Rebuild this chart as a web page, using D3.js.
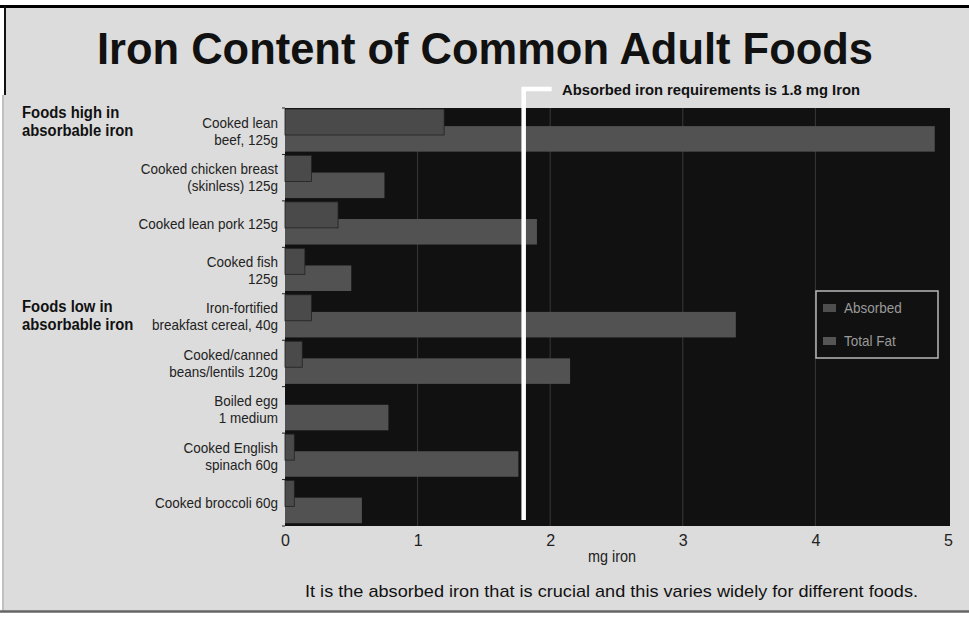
<!DOCTYPE html>
<html>
<head>
<meta charset="utf-8">
<script src="https://cdn.jsdelivr.net/npm/d3@7"></script>
<style>
  html, body { margin: 0; padding: 0; background: #fff; }
  svg { display: block; }
</style>
</head>
<body>
<div id="chart"></div>
<script>
// data
const foodLabels = [
  ["Cooked lean", "beef, 125g"],
  ["Cooked chicken breast", "(skinless) 125g"],
  ["Cooked lean pork 125g"],
  ["Cooked fish", "125g"],
  ["Iron-fortified", "breakfast cereal, 40g"],
  ["Cooked/canned", "beans/lentils 120g"],
  ["Boiled egg", "1 medium"],
  ["Cooked English", "spinach 60g"],
  ["Cooked broccoli 60g"]
];
const absorbed = [1.2, 0.2, 0.4, 0.15, 0.2, 0.13, 0, 0.07, 0.07];
const totalFe = [4.9, 0.75, 1.9, 0.5, 3.4, 2.15, 0.78, 1.76, 0.58];
const xTicks = [0, 1, 2, 3, 4, 5];
const seriesNames = ["Absorbed", "Total Fat"];
const requirement = 1.8;

const W = 969, H = 618;
const narrow = "'Liberation Sans Narrow', 'Arial Narrow', 'Liberation Sans', Arial, sans-serif";
const plot = { left: 285, right: 950, top: 108, bottom: 526 };
const squeeze = 0.9; // condensed look for the small texts

const svg = d3.select("#chart").append("svg")
  .attr("width", W).attr("height", H);

// paper
svg.append("rect").attr("x", 0).attr("y", 0).attr("width", W).attr("height", H).attr("fill", "#fff");
svg.append("rect").attr("x", 4).attr("y", 7).attr("width", W - 4).attr("height", 604).attr("fill", "#dcdcdc");
svg.append("line").attr("x1", 0).attr("x2", W).attr("y1", 6.5).attr("y2", 6.5)
  .attr("stroke", "#000").attr("stroke-width", 3);
svg.append("line").attr("x1", 5).attr("x2", 5).attr("y1", 6).attr("y2", 95)
  .attr("stroke", "#111").attr("stroke-width", 2);
svg.append("line").attr("x1", 3).attr("x2", 3).attr("y1", 95).attr("y2", 611)
  .attr("stroke", "#aaa").attr("stroke-width", 1.5);
svg.append("line").attr("x1", 0).attr("x2", W).attr("y1", 611.5).attr("y2", 611.5)
  .attr("stroke", "#666").attr("stroke-width", 2.5);

// title
svg.append("text")
  .attr("x", 97).attr("y", 64)
  .attr("textLength", 776).attr("lengthAdjust", "spacingAndGlyphs")
  .style("font-family", narrow).style("font-weight", "bold").style("font-size", "45px")
  .attr("fill", "#111")
  .text("Iron Content of Common Adult Foods");

const x = d3.scaleLinear().domain([0, 5]).range([plot.left, plot.right - 2]);
const y = d3.scaleBand().domain(d3.range(foodLabels.length)).range([plot.top, plot.bottom]).padding(0);
const bw = y.bandwidth();

// plot background
svg.append("rect")
  .attr("x", plot.left).attr("y", plot.top)
  .attr("width", plot.right - plot.left).attr("height", plot.bottom - plot.top)
  .attr("fill", "#111");

// vertical gridlines
svg.append("g")
  .selectAll("line")
  .data(xTicks.slice(1, -1))
  .join("line")
  .attr("x1", d => x(d)).attr("x2", d => x(d))
  .attr("y1", plot.top).attr("y2", plot.bottom)
  .attr("stroke", "#393939").attr("stroke-width", 1);

// total bars
svg.append("g")
  .selectAll("rect")
  .data(totalFe)
  .join("rect")
  .attr("x", x(0))
  .attr("y", (d, i) => y(i) + bw * 0.39)
  .attr("width", d => x(d) - x(0))
  .attr("height", bw * 0.55)
  .attr("fill", "#525252");

// absorbed bars
svg.append("g")
  .selectAll("rect")
  .data(absorbed)
  .join("rect")
  .attr("x", x(0))
  .attr("y", (d, i) => y(i) + 1)
  .attr("width", d => x(d) - x(0))
  .attr("height", bw * 0.56)
  .attr("fill", "#4a4a4a")
  .attr("stroke", d => d > 0 ? "#222" : "none")
  .attr("stroke-width", 0.8);

// small ticks on the category axis
svg.append("g")
  .selectAll("line")
  .data(d3.range(foodLabels.length + 1))
  .join("line")
  .attr("x1", plot.left - 3).attr("x2", plot.left)
  .attr("y1", i => plot.top + i * bw).attr("y2", i => plot.top + i * bw)
  .attr("stroke", "#222").attr("stroke-width", 1);

// requirement line
const rx = x(requirement);
svg.append("path")
  .attr("d", `M${rx},${plot.bottom - 6} L${rx},89 L${rx + 28},89`)
  .attr("fill", "none").attr("stroke", "#fff").attr("stroke-width", 4.5);
svg.append("text")
  .attr("x", 562).attr("y", 95)
  .attr("textLength", 298).attr("lengthAdjust", "spacingAndGlyphs")
  .style("font-family", narrow).style("font-weight", "bold").style("font-size", "14px")
  .attr("fill", "#111")
  .text("Absorbed iron requirements is " + requirement + " mg Iron");

// category labels
const cat = svg.append("g")
  .attr("transform", `translate(278, 0) scale(${squeeze}, 1)`)
  .style("font-family", narrow).style("font-size", "15px").attr("fill", "#222");
foodLabels.forEach((lines, i) => {
  const cy = y(i) + bw / 2;
  const t = cat.append("text").attr("text-anchor", "end");
  lines.forEach((ln, j) => {
    t.append("tspan")
      .attr("x", 0)
      .attr("y", cy + (j - (lines.length - 1) / 2) * 17 + 5)
      .text(ln);
  });
});

// group labels
const groups = [
  { lines: ["Foods high in", "absorbable iron"], y: 118 },
  { lines: ["Foods low in", "absorbable iron"], y: 312 }
];
groups.forEach(g => {
  const t = svg.append("text")
    .attr("transform", `translate(22, 0) scale(${squeeze}, 1)`)
    .style("font-family", narrow).style("font-weight", "bold").style("font-size", "16.5px")
    .attr("fill", "#111");
  g.lines.forEach((ln, j) => {
    t.append("tspan").attr("x", 0).attr("y", g.y + j * 18).text(ln);
  });
});

// x axis
const xAxis = svg.append("g")
  .attr("transform", `translate(0, ${plot.bottom})`)
  .call(d3.axisBottom(x).tickValues(xTicks).tickFormat(d3.format("d")).tickSize(0).tickPadding(9));
xAxis.select(".domain").remove();
xAxis.selectAll("text")
  .style("font-family", narrow).style("font-size", "16px").attr("fill", "#222");

svg.append("text")
  .attr("transform", `translate(612, 562) scale(${squeeze}, 1)`)
  .attr("text-anchor", "middle")
  .style("font-family", narrow).style("font-size", "16px").attr("fill", "#222")
  .text("mg iron");

svg.append("text")
  .attr("x", 305).attr("y", 597)
  .attr("textLength", 613).attr("lengthAdjust", "spacingAndGlyphs")
  .style("font-family", narrow).style("font-size", "17px").attr("fill", "#111")
  .text("It is the absorbed iron that is crucial and this varies widely for different foods.");

// legend
const legend = svg.append("g").attr("transform", "translate(816, 291)");
legend.append("rect")
  .attr("width", 122).attr("height", 67)
  .attr("fill", "#111").attr("stroke", "#b8b8b8").attr("stroke-width", 1.5);
const legendColors = ["#4e4e4e", "#555555"];
const item = legend.selectAll(".item")
  .data(seriesNames)
  .join("g")
  .attr("class", "item")
  .attr("transform", (d, i) => `translate(0, ${17 + i * 33})`);
item.append("rect")
  .attr("x", 7).attr("y", -4).attr("width", 13).attr("height", 8)
  .attr("fill", (d, i) => legendColors[i]);
item.append("text")
  .attr("transform", `translate(28, 5) scale(${squeeze}, 1)`)
  .style("font-family", narrow).style("font-size", "15px").attr("fill", "#9a9a9a")
  .text(d => d);
</script>
</body>
</html>
